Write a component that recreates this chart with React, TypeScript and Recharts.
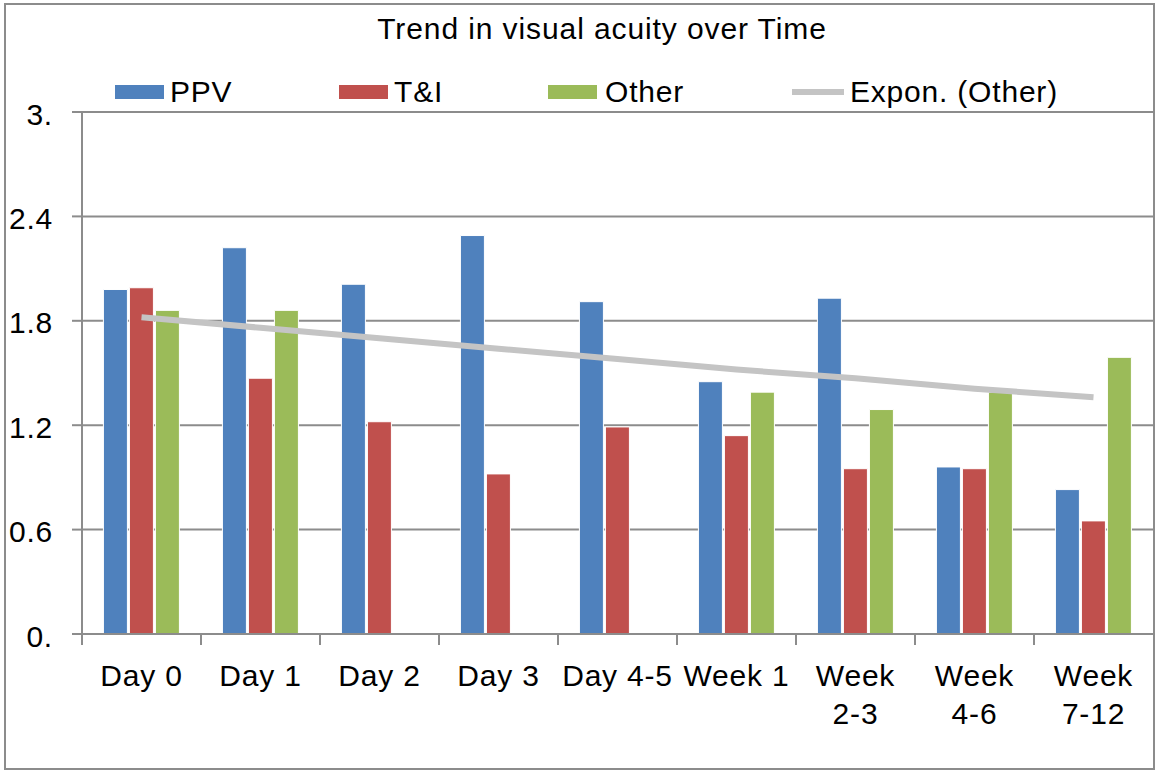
import React from 'react';
import { ComposedChart, Bar, Line, XAxis, YAxis, CartesianGrid, Legend } from 'recharts';

const CATEGORIES = ['Day 0', 'Day 1', 'Day 2', 'Day 3', 'Day 4-5', 'Week 1', 'Week\n2-3', 'Week\n4-6', 'Week\n7-12'];
const PPV = [1.98, 2.22, 2.01, 2.29, 1.91, 1.45, 1.93, 0.96, 0.83];
const TI = [1.99, 1.47, 1.22, 0.92, 1.19, 1.14, 0.95, 0.95, 0.65];
const OTHER = [1.86, 1.86, null, null, null, 1.39, 1.29, 1.39, 1.59];
const TREND_OTHER = [1.82, 1.76, 1.70, 1.64, 1.58, 1.52, 1.47, 1.41, 1.36];
const Y_TICKS = [0, 0.6, 1.2, 1.8, 2.4, 3];
const Y_TICK_LABELS = ['0.', '0.6', '1.2', '1.8', '2.4', '3.'];

const data = CATEGORIES.map((name, i) => ({
  name,
  ppv: PPV[i],
  ti: TI[i],
  other: OTHER[i],
  trend: TREND_OTHER[i],
}));

const FONT = '"Liberation Sans", Arial, Helvetica, sans-serif';
const GRID = '#8c8c8c';
const CHART_W = 1147;
const CHART_H = 763;
const Y_AXIS_W = 76;
const BAND = (CHART_W - Y_AXIS_W) / CATEGORIES.length;

const CategoryTick = (props: any) => {
  const { x, y, payload } = props;
  const lines = String(payload.value).split('\n');
  return (
    <g>
      <line x1={x - BAND / 2} x2={x - BAND / 2} y1={y} y2={y + 11} stroke={GRID} strokeWidth={2} />
      {lines.map((ln, i) => (
        <text
          key={i}
          x={x}
          y={y + 52 + i * 38}
          textAnchor="middle"
          fontSize={30}
          letterSpacing={0.8}
          fontFamily={FONT}
          fill="#000"
        >
          {ln}
        </text>
      ))}
    </g>
  );
};

const legendItems = [
  { label: 'PPV', color: '#4F81BD', swatch: 109, text: 164, kind: 'bar' },
  { label: 'T&I', color: '#C0504D', swatch: 333, text: 388, kind: 'bar' },
  { label: 'Other', color: '#9BBB59', swatch: 542, text: 599, kind: 'bar' },
  { label: 'Expon. (Other)', color: '#C4C4C4', swatch: 786, text: 844, kind: 'line' },
];

const renderLegend = () => (
  <div style={{ position: 'relative', width: CHART_W, height: 36, fontFamily: FONT, fontSize: 30, letterSpacing: 0.8 }}>
    {legendItems.map((it) => (
      <React.Fragment key={it.label}>
        <div
          style={{
            position: 'absolute',
            left: it.swatch,
            top: it.kind === 'bar' ? 11 : 15,
            width: it.kind === 'bar' ? 49 : 52,
            height: it.kind === 'bar' ? 14 : 6,
            background: it.color,
          }}
        />
        <div style={{ position: 'absolute', left: it.text, top: 1, lineHeight: '34px', color: '#000', whiteSpace: 'nowrap' }}>
          {it.label}
        </div>
      </React.Fragment>
    ))}
  </div>
);

export default function App() {
  return (
    <div
      style={{
        position: 'absolute',
        left: 4,
        top: 3,
        width: CHART_W + 4,
        height: CHART_H + 4,
        border: `2px solid ${GRID}`,
        boxSizing: 'border-box',
        background: '#fff',
        fontFamily: FONT,
      }}
    >
      <div
        style={{
          position: 'absolute',
          left: 296,
          top: 6,
          width: 600,
          textAlign: 'center',
          fontSize: 30,
          letterSpacing: 0.9,
          lineHeight: '36px',
          color: '#000',
        }}
      >
        Trend in visual acuity over Time
      </div>
      <ComposedChart
        width={CHART_W}
        height={CHART_H}
        data={data}
        margin={{ top: 107, right: 0, left: 0, bottom: 0 }}
        barCategoryGap="18%"
        barGap={2}
      >
        <CartesianGrid vertical={false} stroke={GRID} strokeWidth={2} />
        <XAxis
          dataKey="name"
          height={134}
          axisLine={{ stroke: GRID, strokeWidth: 2 }}
          tickLine={false}
          tickSize={0}
          tickMargin={0}
          interval={0}
          tick={<CategoryTick />}
        />
        <YAxis
          width={Y_AXIS_W}
          domain={[0, 3]}
          ticks={Y_TICKS}
          tickFormatter={(v: number) => Y_TICK_LABELS[Y_TICKS.indexOf(v)] ?? String(v)}
          axisLine={{ stroke: GRID, strokeWidth: 2 }}
          tickLine={{ stroke: GRID, strokeWidth: 2 }}
          tickSize={10}
          tickMargin={19}
          tick={{ fontSize: 30, fill: '#000', fontFamily: FONT, letterSpacing: 0.8, dy: 2 }}
        />
        <Legend
          layout="vertical"
          align="center"
          verticalAlign="middle"
          wrapperStyle={{ top: 69, left: 0, width: CHART_W }}
          content={renderLegend}
        />
        <Bar dataKey="ppv" name="PPV" fill="#4F81BD" stroke="#fff" strokeWidth={1} isAnimationActive={false} />
        <Bar dataKey="ti" name="T&I" fill="#C0504D" stroke="#fff" strokeWidth={1} isAnimationActive={false} />
        <Bar dataKey="other" name="Other" fill="#9BBB59" stroke="#fff" strokeWidth={1} isAnimationActive={false} />
        <Line
          dataKey="trend"
          name="Expon. (Other)"
          type="linear"
          stroke="#C4C4C4"
          strokeWidth={6}
          dot={false}
          activeDot={false}
          isAnimationActive={false}
        />
      </ComposedChart>
    </div>
  );
}
